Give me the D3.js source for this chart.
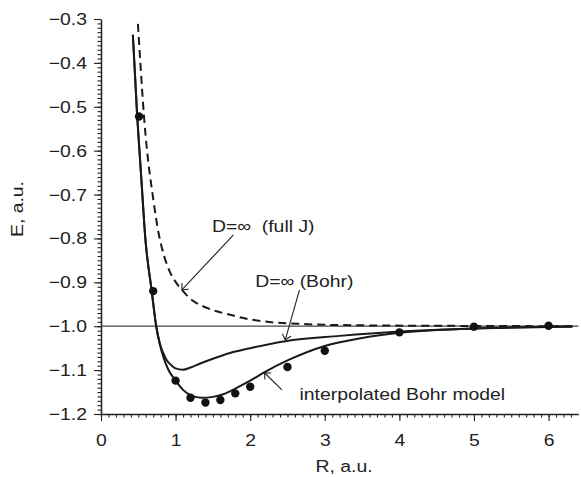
<!DOCTYPE html>
<html>
<head>
<meta charset="utf-8">
<script src="https://cdn.jsdelivr.net/npm/d3@7"></script>
<style>
  body { margin: 0; background: #fff; }
  text { font-family: Arial, "Liberation Sans", Helvetica, sans-serif; fill: #222; }
</style>
</head>
<body>
<div id="chart"></div>
<script>
// D=inf (Bohr)
const bohrR = [0.427, 0.485, 0.54, 0.593, 0.68, 0.74, 0.79, 0.84, 0.88, 0.95, 1.0, 1.1, 1.2, 1.33, 1.5, 1.73, 2.0, 2.47, 3.2, 4.0, 5.0, 6.0, 6.32];
const bohrE = [-0.336, -0.521, -0.662, -0.797, -0.92, -1.0, -1.04, -1.063, -1.077, -1.09, -1.096, -1.099, -1.094, -1.085, -1.074, -1.061, -1.05, -1.034, -1.022, -1.012, -1.005, -1.002, -1.001];
// interpolated Bohr model
const interpR = [0.427, 0.485, 0.54, 0.593, 0.68, 0.74, 0.79, 0.84, 0.9, 1.0, 1.1, 1.2, 1.35, 1.5, 1.64, 1.8, 2.0, 2.2, 2.5, 3.0, 3.5, 4.0, 5.0, 6.0, 6.32];
const interpE = [-0.336, -0.521, -0.662, -0.797, -0.92, -1.0, -1.042, -1.072, -1.098, -1.124, -1.145, -1.157, -1.163, -1.161, -1.155, -1.142, -1.124, -1.104, -1.078, -1.045, -1.027, -1.015, -1.005, -1.001, -1.0];
// D=inf (full J), dashed
const fullJR = [0.495, 0.525, 0.576, 0.617, 0.693, 0.771, 0.85, 0.928, 1.0, 1.084, 1.2, 1.374, 1.55, 1.732, 1.95, 2.179, 2.714, 3.5, 4.5, 6.32];
const fullJE = [-0.311, -0.393, -0.521, -0.599, -0.701, -0.787, -0.842, -0.878, -0.899, -0.917, -0.938, -0.955, -0.966, -0.974, -0.983, -0.989, -0.995, -0.998, -0.999, -1.0];
// points
const dotR = [0.51, 0.7, 1.0, 1.2, 1.4, 1.6, 1.8, 2.0, 2.5, 3.0, 4.0, 5.0, 6.0];
const dotE = [-0.522, -0.92, -1.124, -1.163, -1.174, -1.168, -1.153, -1.138, -1.093, -1.056, -1.014, -1.001, -0.999];

const xTicks = [0, 1, 2, 3, 4, 5, 6];
const yTicks = [-1.2, -1.1, -1.0, -0.9, -0.8, -0.7, -0.6, -0.5, -0.4, -0.3];

const width = 581, height = 477;
const fs = 17;
const k = 1.14; // text in the figure is a bit wide

const svg = d3.select("#chart").append("svg")
  .attr("width", width)
  .attr("height", height);

const x = d3.scaleLinear().domain([0, 6.4]).range([101, 578.4]);
const y = d3.scaleLinear().domain([-1.2, -0.3]).range([414, 19]);

// minor ticks
svg.append("g")
  .attr("transform", `translate(0,${y(-1.2)})`)
  .call(d3.axisBottom(x).tickValues(d3.range(0, 64).map(i => i / 10)).tickSize(3.5).tickFormat("").tickSizeOuter(0))
  .call(g => g.select(".domain").remove());
svg.append("g")
  .attr("transform", `translate(${x(0)},0)`)
  .call(d3.axisLeft(y).tickValues(d3.range(0, 91).map(i => -1.2 + i / 100)).tickSize(3.5).tickFormat("").tickSizeOuter(0))
  .call(g => g.select(".domain").remove());

const gx = svg.append("g")
  .attr("transform", `translate(0,${y(-1.2)})`)
  .call(d3.axisBottom(x).tickValues(xTicks).tickSize(7).tickPadding(13).tickSizeOuter(0).tickFormat(d3.format("d")));
const gy = svg.append("g")
  .attr("transform", `translate(${x(0)},0)`)
  .call(d3.axisLeft(y).tickValues(yTicks).tickSize(7).tickPadding(7).tickSizeOuter(0).tickFormat(d3.format(".1f")));

svg.selectAll(".tick line").attr("stroke", "#222").attr("stroke-width", 1.1);
svg.selectAll(".domain").attr("stroke", "#222").attr("stroke-width", 1.5);
[gx, gy].forEach(g => g.selectAll("text")
  .style("font-family", "Arial, 'Liberation Sans', sans-serif")
  .style("font-size", fs + "px")
  .attr("fill", "#222")
  .attr("x", function() { return (+d3.select(this).attr("x") || 0) / k; })
  .attr("transform", `scale(${k},1)`));

// reference line E = -1
svg.append("line")
  .attr("x1", x(0)).attr("x2", x(6.4))
  .attr("y1", y(-1.0)).attr("y2", y(-1.0))
  .attr("stroke", "#444").attr("stroke-width", 1.2);

const line = (rs, es) => d3.line()
  .x(i => x(rs[i]))
  .y(i => y(es[i]))
  .curve(d3.curveMonotoneX)(d3.range(rs.length));

svg.append("path").attr("d", line(bohrR, bohrE))
  .attr("fill", "none").attr("stroke", "#1a1a1a").attr("stroke-width", 2);
svg.append("path").attr("d", line(interpR, interpE))
  .attr("fill", "none").attr("stroke", "#1a1a1a").attr("stroke-width", 2);
svg.append("path").attr("d", line(fullJR, fullJE))
  .attr("fill", "none").attr("stroke", "#1a1a1a").attr("stroke-width", 2)
  .attr("stroke-dasharray", "8,5");

svg.selectAll("circle.dot")
  .data(d3.range(dotR.length))
  .enter().append("circle")
  .attr("class", "dot")
  .attr("cx", i => x(dotR[i]))
  .attr("cy", i => y(dotE[i]))
  .attr("r", 4.2)
  .attr("fill", "#111");

// annotations
svg.append("defs").append("marker")
  .attr("id", "head")
  .attr("viewBox", "-10 -6 12 12")
  .attr("refX", 0).attr("refY", 0)
  .attr("markerWidth", 12).attr("markerHeight", 12)
  .attr("markerUnits", "userSpaceOnUse")
  .attr("orient", "auto")
  .append("path")
  .attr("d", "M-5,-4.5L0,0L-5,4.5")
  .attr("fill", "none").attr("stroke", "#222").attr("stroke-width", 1.1);

const notes = [
  { text: "D=\u221E  (full J)", r: 1.487, e: -0.7845, from: [1.776, -0.792], to: [1.084, -0.917] },
  { text: "D=\u221E (Bohr)", r: 2.067, e: -0.911, from: [2.661, -0.917], to: [2.47, -1.031] },
  { text: "interpolated Bohr model", r: 2.661, e: -1.169, from: [2.425, -1.145], to: [2.192, -1.106] }
];

notes.forEach(n => {
  svg.append("text")
    .attr("transform", `translate(${x(n.r)},${y(n.e)}) scale(${k},1)`)
    .style("font-size", fs + "px")
    .style("white-space", "pre")
    .text(n.text);
  svg.append("line")
    .attr("x1", x(n.from[0])).attr("y1", y(n.from[1]))
    .attr("x2", x(n.to[0])).attr("y2", y(n.to[1]))
    .attr("stroke", "#222").attr("stroke-width", 1.1)
    .attr("marker-end", "url(#head)");
});

// axis titles
svg.append("text")
  .attr("transform", `translate(23,209) rotate(-90) scale(${k},1)`)
  .attr("text-anchor", "middle")
  .style("font-size", fs + "px")
  .text("E, a.u.");
svg.append("text")
  .attr("transform", `translate(344,471.7) scale(${k},1)`)
  .attr("text-anchor", "middle")
  .style("font-size", fs + "px")
  .text("R, a.u.");
</script>
</body>
</html>
